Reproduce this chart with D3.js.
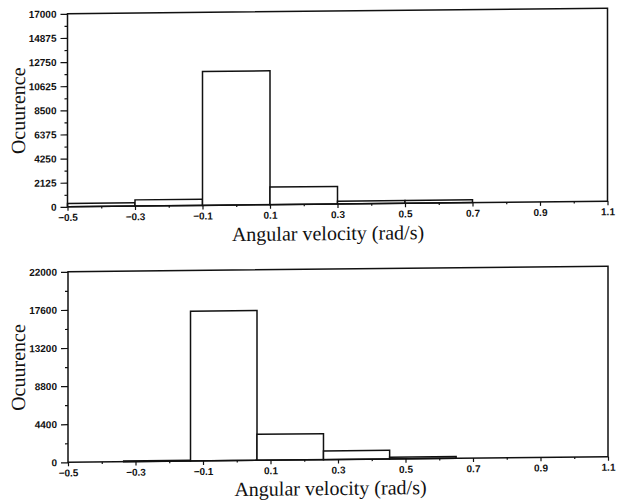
<!DOCTYPE html>
<html lang="en">
<head>
<meta charset="utf-8">
<title>Angular velocity histograms</title>
<script src="https://cdn.jsdelivr.net/npm/d3@7"></script>
<style type="text/css">
body { margin: 0; background: #fff; }
.frame { fill: none; stroke: #111; stroke-width: 1.5px; }
.bar { fill: #fff; stroke: #111; stroke-width: 1.5px; }
.axis path, .axis line { stroke: #111; stroke-width: 1.2px; }
.axis text { font-family: "Liberation Sans", Arial, sans-serif; font-weight: bold; font-size: 10px; fill: #111; }
.title { font-family: "Liberation Serif", "Times New Roman", serif; font-size: 20px; fill: #111; }
</style>
</head>
<body>
<script type="text/javascript">
"use strict";

var width = 617, height = 500;

// data
var xTicks = [-0.5, -0.3, -0.1, 0.1, 0.3, 0.5, 0.7, 0.9, 1.1];
var xMinor = [-0.4, -0.2, 0, 0.2, 0.4, 0.6, 0.8, 1.0];

var topEdges = [-0.5, -0.3, -0.1, 0.1, 0.3, 0.5, 0.7, 0.9, 1.1];
var topCounts = [300, 550, 11800, 1550, 250, 250, 0, 0];
var topYTicks = [0, 2125, 4250, 6375, 8500, 10625, 12750, 14875, 17000];

var bottomEdges = [-0.335, -0.137, 0.06, 0.257, 0.453, 0.65];
var bottomCounts = [80, 17300, 3000, 1000, 200];
var bottomYTicks = [0, 4400, 8800, 13200, 17600, 22000];

var xLabel = "Angular velocity (rad/s)";
var yLabel = "Ocuurence";

var svg = d3.select("body").append("svg")
    .attr("width", width)
    .attr("height", height);

// the scan is slightly skewed, right side sits higher
var page = svg.append("g")
    .attr("transform", "translate(337,0) skewY(-0.6) translate(-337,0)");

function drawPanel(edges, counts, yTicks, box)
{
  var x = d3.scaleLinear().domain([-0.5, 1.1]).range([box.left, box.right]);
  var y = d3.scaleLinear().domain([0, yTicks[yTicks.length - 1]]).range([box.bottom, box.top]);

  var g = page.append("g");

  var bins = counts.map(function(c, i) { return {x0: edges[i], x1: edges[i + 1], n: c}; })
      .filter(function(d) { return d.n > 0; });

  g.selectAll(".bar")
    .data(bins)
    .enter().append("rect")
    .attr("class", "bar")
    .attr("x", function(d) { return x(d.x0); })
    .attr("width", function(d) { return x(d.x1) - x(d.x0); })
    .attr("y", function(d) { return y(d.n); })
    .attr("height", function(d) { return y(0) - y(d.n); });

  var minorY = yTicks.slice(1).map(function(v, i) { return (v + yTicks[i]) / 2; });

  g.append("g").attr("class", "axis")
    .attr("transform", "translate(" + box.left + ",0)")
    .call(d3.axisLeft(y).tickValues(minorY).tickSize(3).tickSizeOuter(0).tickFormat(""));

  g.append("g").attr("class", "axis")
    .attr("transform", "translate(" + box.left + ",0)")
    .call(d3.axisLeft(y).tickValues(yTicks).tickSize(7).tickSizeOuter(0).tickPadding(4).tickFormat(d3.format("d")));

  g.append("g").attr("class", "axis")
    .attr("transform", "translate(0," + box.bottom + ")")
    .call(d3.axisBottom(x).tickValues(xMinor).tickSize(2).tickSizeOuter(0).tickFormat(""));

  g.append("g").attr("class", "axis")
    .attr("transform", "translate(0," + box.bottom + ")")
    .call(d3.axisBottom(x).tickValues(xTicks).tickSize(4).tickSizeOuter(0).tickPadding(3).tickFormat(d3.format(".1f")));

  g.selectAll(".axis .domain").remove();

  g.append("rect")
    .attr("class", "frame")
    .attr("x", box.left).attr("y", box.top)
    .attr("width", box.right - box.left).attr("height", box.bottom - box.top);

  g.append("text")
    .attr("class", "title")
    .attr("text-anchor", "middle")
    .attr("x", box.labelX).attr("y", box.labelY)
    .text(xLabel);

  g.append("text")
    .attr("class", "title")
    .attr("text-anchor", "middle")
    .attr("transform", "translate(25," + (box.top + box.bottom) / 2 + ") rotate(-90)")
    .text(yLabel);
}

drawPanel(topEdges, topCounts, topYTicks,
  {left: 67.5, right: 607.5, top: 11, bottom: 204, labelX: 328, labelY: 240});
drawPanel(bottomEdges, bottomCounts, bottomYTicks,
  {left: 68, right: 608, top: 269, bottom: 459.5, labelX: 330.5, labelY: 495});

</script>
</body>
</html>
